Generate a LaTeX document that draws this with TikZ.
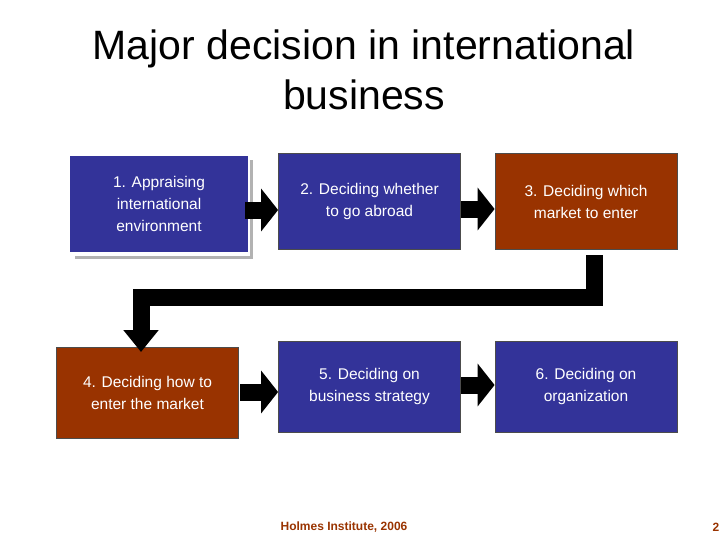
\documentclass[tikz,border=0pt]{standalone}
\usepackage{fontspec}
\setmainfont{Liberation Sans}
\usetikzlibrary{arrows.meta}
\definecolor{bb}{HTML}{333399}
\definecolor{br}{HTML}{993300}
\begin{document}
\begin{tikzpicture}[x=1pt,y=-1pt,
  box/.style={draw=black!70,line width=0.8pt,fill=#1,text=white,minimum width=182pt,minimum height=96pt,align=center,font=\fontsize{15.5}{22}\selectfont},
  flow/.style={line width=18pt,-{Triangle[width=42pt,length=17pt]},black}]
\useasboundingbox (0,0) rectangle (728,546);
\node[font=\fontsize{41}{50}\selectfont,align=center] (title) at (364,70) {Major decision in international\\business};
\fill[gray!60] (75,160) rectangle (253,259);
\fill[white] (73,158) rectangle (250,256);
\node[box=bb,minimum width=178pt,minimum height=96pt,draw=none] (b1) at (159,204) {1. Appraising\\international\\environment};
\node[box=bb] (b2) at (369.5,201.5) {2. Deciding whether\\to go abroad};
\node[box=br] (b3) at (586,201.5) {3. Deciding which\\market to enter};
\node[box=br,minimum height=91pt] (b4) at (147.5,392.5) {4. Deciding how to\\enter the market};
\node[box=bb,minimum height=91pt] (b5) at (369.5,386.5) {5. Deciding on\\business strategy};
\node[box=bb,minimum height=91pt] (b6) at (586,386.5) {6. Deciding on\\organization};
\draw[flow,line width=17pt] (245,210) -- (b2.west|-245,210);
\draw[flow,line width=17pt] (461,209) -- (b3.west|-461,209);
\draw[flow,line width=17pt] (240,392) -- (b5.west|-240,392);
\draw[flow,line width=17pt] (461,385) -- (b6.west|-461,385);
\coordinate (c1) at (594,255);
\coordinate (c2) at (594,297);
\coordinate (c3) at (141,297);
\coordinate (c4) at (141,352);
\draw[line width=17pt,-{Triangle[width=34pt,length=22pt]},line join=miter] (c1) -- (c2) -- (c3) -- (c4);
\node[font=\bfseries\fontsize{12}{14}\selectfont,text=br] (foot) at (344,527) {Holmes Institute, 2006};
\node[font=\bfseries\fontsize{12}{14}\selectfont,text=br] (pg) at (716,527) {2};
\end{tikzpicture}
\end{document}
